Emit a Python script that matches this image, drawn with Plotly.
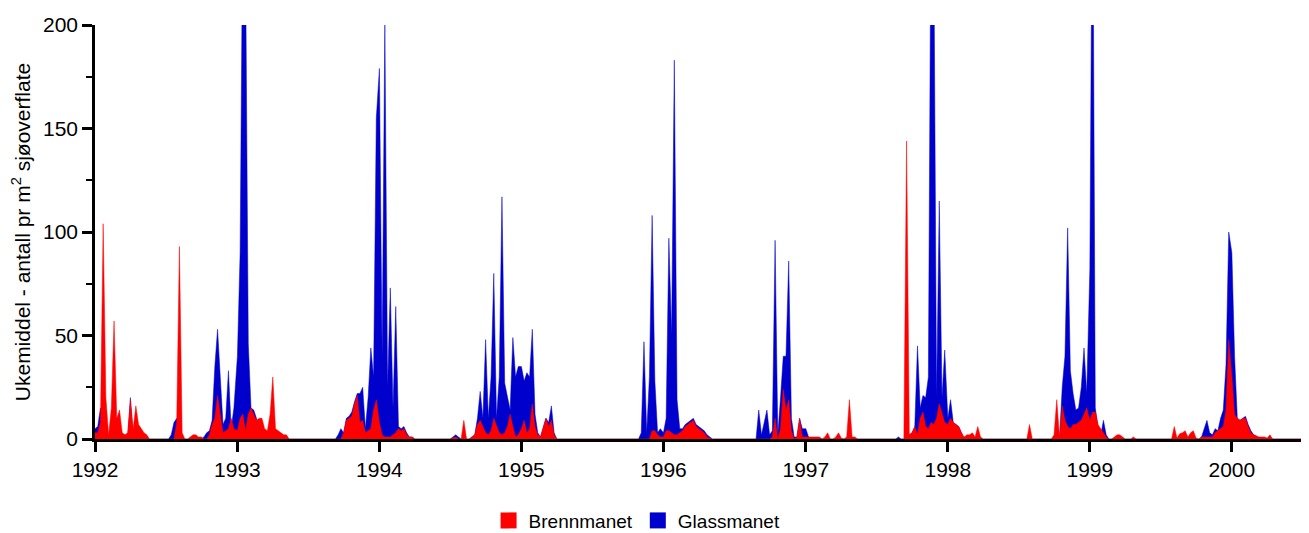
import pandas as pd
import plotly.graph_objects as go

# Weekly means (antall pr m2 sjøoverflate), one list per calendar year, week 1..52
brenn_1992 = [3,3,8,104,20,2,15,57,10,14, 3,2,3,19,5,16,7,5,3,2, 0,0,0,0,0,0,0,0,0,0,
              8,93,3,0,0,1,2,2,1,1, 0,0,2,7,10,21,12,3,4,5, 10,5]
glass_1992 = [5,6,15,15,5,0,0,0,0,0, 0,0,0,20,0,0,0,0,0,0, 0,0,0,0,0,0,0,0,2,8,
              10,0,0,0,0,0,0,0,0,0, 1,3,4,9,35,53,30,7,10,33, 5,15]

brenn_1993 = [4,10,12,4,12,15,12,9,10,10, 5,4,12,30,5,4,3,2,2,0, 0,0,0,0,0,0,0,0,0,0,
              0,0,0,0,0,0,0,0,0,3, 9,10,11,17,21,8,9,3,4,5, 14,19]
glass_1993 = [40,90,260,230,46,15,14,10,0,0, 0,0,0,0,0,0,0,0,0,0, 0,0,0,0,0,0,0,0,0,0,
              0,0,0,0,0,0,0,2,5,3, 10,11,13,18,22,22,25,5,20,44, 30,155]

brenn_1994 = [8,2,1,1,1,2,3,5,4,5, 2,1,1,0,0,0,0,0,0,0, 0,0,0,0,0,0,0,0.5,1,0,
              0,9,0,0,1,2,7,9,6,3, 2,4,10,6,3,2,3,6,12,6, 1,2]
glass_1994 = [179,40,202,25,73,15,64,6,5,6, 3,1,1,0,0,0,0,0,0,0, 0,0,0,0,0,0,0,1,2,1,
              0,0,0,0,1,2,10,23,10,48, 10,30,80,10,30,117,27,20,14,49, 30,35]

brenn_1995 = [5,9,3,5,17,6,2,1,6,10, 6,9,2,0,0,0,0,0,0,0, 0,0,0,0,0,0,0,0,0,0,
              0,0,0,0,0,0,0,0,0,0, 0,0,0,0,0,0,0,0,4,4, 2,1]
glass_1995 = [35,28,32,30,53,12,3,1,6,10, 8,16,3,0,0,0,0,0,0,0, 0,0,0,0,0,0,0,0,0,0,
              0,0,0,0,0,0,0,0,0,0, 0,0,0,0,3,47,3,30,108,28, 3,5]

brenn_1996 = [1,4,4,3,2,2,3,4,6,7, 8,9,6,5,4,3,1,0.5,0,0, 0,0,0,0,0,0,0,0,0,0,
              0,0,0,0,0,0,0,0,0,0, 1,10,0,5,24,14,19,4,0,1, 10,1]
glass_1996 = [3,10,97,50,183,19,5,5,7,8, 9,10,7,6,5,4,2,1,0,0, 0,0,0,0,0,0,0,0,0,0,
              0,0,0,0,0,14,2,8,14,2, 4,96,2,20,40,40,86,10,1,1, 10,5]

brenn_1997 = [1,1,1,1,1,1,0,1,3,0, 0,1,3,0.5,0,1,19,1,1,0, 0,0,0,0,0,0,0,0,0,0,
              0,0,0,0,0,0,0,144,2,3, 6,2,10,13,6,5,8,7,10,17, 12,8]
glass_1997 = [5,1,0,0,0,0,0,0,0,0, 0,0,0,0,0,0,0,0,0,0, 0,0,0,0,0,0,0,0,0,0,
              0,0,0,0,1,0,0,0,2,3, 6,45,15,21,20,30,270,240,20,115, 20,43]

brenn_1998 = [7,10,8,7,6,3,1,2,2,3, 1,6,1,0,0,0,0,0,0,0, 0,0,0,0,0,0,0,0,0,0,
              7,0,0,0,0,0,0,0,0,2, 19,1,16,9,6,5,7,7,8,9, 12,15]
glass_1998 = [10,19,8,7,6,3,0,0,0,0, 0,0,0,0,0,0,0,0,0,0, 0,0,0,0,0,0,0,0,0,0,
              0,0,0,0,0,0,0,0,0,0, 0,0,25,40,102,33,22,14,15,25, 44,22]

brenn_1999 = [9,13,13,7,5,3,1,0,0,1, 2,2,1,0,0,0,1,0,0,0, 0,0,0,0,0,0,0,0,0,0,
              0,6,0.5,2.5,3,4,1,3,4,0.5, 0,1,1,1,1,1,3,4,5,6, 14,48]
glass_1999 = [82,300,15,6,2,9,2,0,0,0, 0,0,0,0,0,0,0,0,0,0, 0,0,0,0,0,0,0,0,0,0,
              0,0,0,0,0,0,0,0,0,0, 0,1,5,9,3,2,5,4,10,14, 36,100]

brenn_2000 = [30,12,10,9,10,10,6,3,2,1.5, 1,1,1,0.5,2,0,0,0,0,0, 0,0,0,0,0,0,0]
glass_2000 = [90,40,10,9,10,11,7,4,2,1.5, 0,0,0,0,0,0,0,0,0,0, 0,0,0,0,0,0,0]

years = [1992, 1993, 1994, 1995, 1996, 1997, 1998, 1999, 2000]
brenn_by_year = [brenn_1992, brenn_1993, brenn_1994, brenn_1995, brenn_1996,
                 brenn_1997, brenn_1998, brenn_1999, brenn_2000]
glass_by_year = [glass_1992, glass_1993, glass_1994, glass_1995, glass_1996,
                 glass_1997, glass_1998, glass_1999, glass_2000]

series_names = ["Brennmanet", "Glassmanet"]
colors = {"Brennmanet": "#FF0000", "Glassmanet": "#0000CC"}


def weekly_dates(year, n):
    start = pd.Timestamp(year=year, month=1, day=1)
    return [start + pd.Timedelta(days=7 * i) for i in range(n)]


dates, brenn, glass = [], [], []
for yr, b, g in zip(years, brenn_by_year, glass_by_year):
    dates += weekly_dates(yr, len(b))
    brenn += b
    glass += g

FONT = "Liberation Sans, Arial, sans-serif"

fig = go.Figure()
# Glassmanet drawn first (behind), Brennmanet on top
fig.add_trace(go.Scatter(x=dates, y=glass, mode="lines", fill="tozeroy",
                         line=dict(color=colors["Glassmanet"], width=0.5),
                         fillcolor=colors["Glassmanet"], showlegend=False,
                         hoverinfo="skip"))
fig.add_trace(go.Scatter(x=dates, y=brenn, mode="lines", fill="tozeroy",
                         line=dict(color=colors["Brennmanet"], width=0.5),
                         fillcolor=colors["Brennmanet"], showlegend=False,
                         hoverinfo="skip"))
# legend entries as squares
for name in series_names:
    fig.add_trace(go.Scatter(x=[None], y=[None], mode="markers", name=name,
                             marker=dict(symbol="square", size=16, color=colors[name])))

# page body has an 8px margin, so the figure is sized/offset to compensate
fig.update_layout(
    width=1301, height=525,
    margin=dict(l=87, r=4, t=17, b=94, autoexpand=False),
    paper_bgcolor="white", plot_bgcolor="white",
    font=dict(family=FONT, size=21, color="black"),
    hovermode=False,
    legend=dict(orientation="h", x=0.448, xanchor="center", y=-0.197, yanchor="middle",
                font=dict(size=19, family=FONT), itemwidth=30, traceorder="normal",
                bgcolor="rgba(0,0,0,0)", tracegroupgap=0),
)
fig.update_xaxes(
    type="date", range=["1992-01-01", "2000-07-07"],
    tick0="1992-01-01", dtick="M12", tickformat="%Y",
    showgrid=False, zeroline=False, showline=True, linecolor="black", linewidth=2.5,
    ticks="outside", ticklen=10, tickwidth=2.5, tickcolor="black",
    tickfont=dict(size=21, family=FONT),
)
fig.update_yaxes(
    range=[0, 200], dtick=50, tick0=0,
    showgrid=False, zeroline=False, showline=True, linecolor="black", linewidth=2.5,
    ticks="outside", ticklen=10, tickwidth=2.5, tickcolor="black",
    minor=dict(dtick=25, ticks="outside", ticklen=6, tickwidth=2, tickcolor="black"),
    tickfont=dict(size=21, family=FONT),
    title=dict(text="Ukemiddel - antall pr m<sup>2</sup> sjøoverflate",
               font=dict(size=21, family=FONT), standoff=8),
)

fig.write_html("out.html")
